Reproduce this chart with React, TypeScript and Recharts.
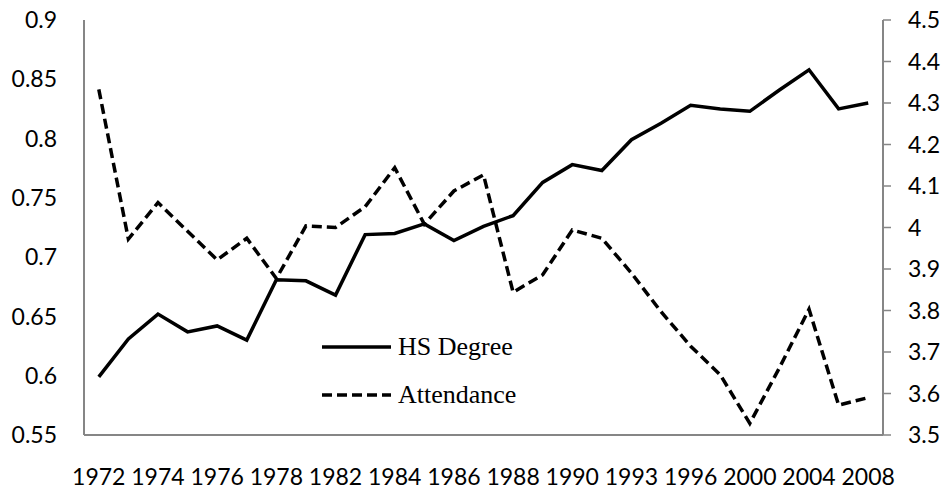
import React from 'react';
import { LineChart, Line, XAxis, YAxis, Legend } from 'recharts';

const years = ['1972','1973','1974','1975','1976','1977','1978','1980','1982','1983','1984','1985','1986','1987','1988','1989','1990','1991','1993','1994','1996','1998','2000','2002','2004','2006','2008'];
const hsDegree = [0.599,0.631,0.652,0.637,0.642,0.630,0.681,0.680,0.668,0.719,0.720,0.728,0.714,0.726,0.735,0.763,0.778,0.773,0.799,0.813,0.828,0.825,0.823,0.841,0.858,0.825,0.830];
const attendance = [4.333,3.972,4.060,3.991,3.922,3.974,3.877,4.004,4.000,4.050,4.144,4.008,4.088,4.127,3.844,3.886,3.994,3.974,3.890,3.797,3.714,3.645,3.528,3.662,3.803,3.572,3.590];
const leftTicks = [0.55,0.6,0.65,0.7,0.75,0.8,0.85,0.9];
const rightTicks = [3.5,3.6,3.7,3.8,3.9,4,4.1,4.2,4.3,4.4,4.5];
const seriesNames = ['HS Degree', 'Attendance'];

const data = years.map((y, i) => ({ year: y, hs: hsDegree[i], att: attendance[i] }));

const AXIS = '#868686';
const tickFont = { fontFamily: 'Lato, sans-serif', fontSize: 23, fill: '#000' };

const LegendContent = (props: any) => {
  const payload = [...(props.payload || [])].sort(
    (a: any, b: any) => seriesNames.indexOf(a.value) - seriesNames.indexOf(b.value)
  );
  return (
    <div style={{ fontFamily: '"Liberation Serif", "Times New Roman", serif', fontSize: 26, color: '#000' }}>
      {payload.map((entry: any, i: number) => {
        const dashed = entry?.payload?.strokeDasharray;
        return (
          <div key={i} style={{ display: 'flex', alignItems: 'center', height: 48 }}>
            <svg width={72} height={10} style={{ display: 'block' }}>
              <line x1={0} y1={5} x2={69} y2={5} stroke="#000" strokeWidth={3.5} strokeDasharray={dashed || undefined} />
            </svg>
            <span style={{ marginLeft: 4, lineHeight: '30px' }}>{entry.value}</span>
          </div>
        );
      })}
    </div>
  );
};

export default function App() {
  return (
    <div>
      <style>{'body{margin:0}'}</style>
      <LineChart width={945} height={489} data={data} margin={{ top: 20, right: 0, left: 0, bottom: 0 }}>
        <XAxis dataKey="year" scale="band" interval={1} tickLine={false} axisLine={{ stroke: AXIS, strokeWidth: 2 }} tick={tickFont} height={54} tickMargin={28} />
        <YAxis yAxisId="left" orientation="left" domain={[0.55, 0.9]} ticks={leftTicks} width={84} tickLine={false} axisLine={{ stroke: AXIS, strokeWidth: 2 }} tick={tickFont} tickMargin={21} allowDataOverflow />
        <YAxis yAxisId="right" orientation="right" domain={[3.5, 4.5]} ticks={rightTicks} width={62} tickSize={8} tickLine={{ stroke: AXIS, strokeWidth: 1.5 }} axisLine={{ stroke: AXIS, strokeWidth: 2 }} tick={tickFont} tickMargin={17} allowDataOverflow />
        <Line yAxisId="left" type="linear" dataKey="hs" name="HS Degree" stroke="#000" strokeWidth={3.5} dot={false} activeDot={false} isAnimationActive={false} />
        <Line yAxisId="right" type="linear" dataKey="att" name="Attendance" stroke="#000" strokeWidth={3.5} strokeDasharray="10 5" dot={false} activeDot={false} isAnimationActive={false} />
        <Legend content={<LegendContent />} layout="vertical" align="center" verticalAlign="middle" wrapperStyle={{ left: 322, top: 323, width: 260, bottom: 'auto', right: 'auto' }} />
      </LineChart>
    </div>
  );
}
